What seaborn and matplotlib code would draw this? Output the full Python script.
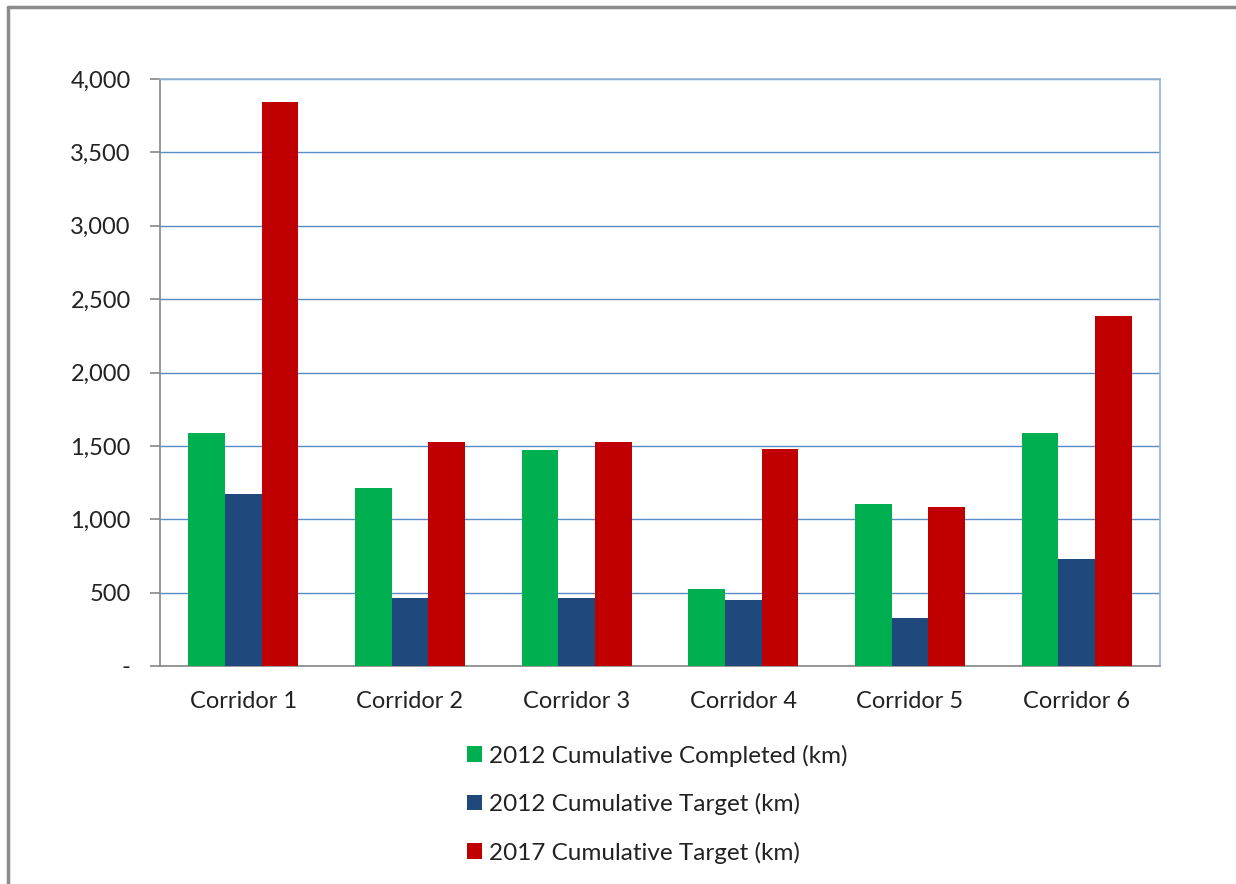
import numpy as np
import pandas as pd
import matplotlib.pyplot as plt
import matplotlib.ticker as mticker
from matplotlib.lines import Line2D
import seaborn as sns

corridors = ["Corridor 1", "Corridor 2", "Corridor 3", "Corridor 4", "Corridor 5", "Corridor 6"]
completed_2012 = [1590, 1215, 1470, 525, 1105, 1590]
target_2012 = [1170, 465, 465, 450, 330, 730]
target_2017 = [3845, 1525, 1525, 1480, 1085, 2385]
series_names = ["2012 Cumulative Completed (km)", "2012 Cumulative Target (km)", "2017 Cumulative Target (km)"]
colors = ["#00B050", "#1F497D", "#C00000"]

df = pd.DataFrame({
    "Corridor": corridors * 3,
    "Series": np.repeat(series_names, len(corridors)),
    "km": completed_2012 + target_2012 + target_2017,
})

sns.set_style("white")
plt.rcParams['font.family'] = ['Lato', 'DejaVu Sans']

fig = plt.figure(figsize=(12.36, 8.84), dpi=100)
ax = fig.add_axes([160 / 1236, 1 - 666 / 884, 1000 / 1236, 587 / 884])

sns.barplot(data=df, x="Corridor", y="km", hue="Series", palette=colors,
            width=0.66, gap=0, saturation=1, linewidth=0, ax=ax, zorder=3)

ax.set_ylim(0, 4000)
ax.set_xlim(-0.5, len(corridors) - 0.5)
ax.yaxis.set_major_locator(mticker.MultipleLocator(500))
ax.yaxis.set_major_formatter(mticker.FuncFormatter(lambda v, p: "-" if v == 0 else f"{v:,.0f}"))
ax.grid(axis="y", color="#5B8BC6", linewidth=1, zorder=0)
ax.set_axisbelow(True)
ax.set_xlabel("")
ax.set_ylabel("")

for s in ["left", "bottom"]:
    ax.spines[s].set_color("#868686")
    ax.spines[s].set_linewidth(1.2)
for s in ["top", "right"]:
    ax.spines[s].set_color("#95B3D7")
    ax.spines[s].set_linewidth(1.2)

ax.set_xticks(np.arange(len(corridors) + 1) - 0.5, minor=True)
ax.tick_params(axis="x", which="major", length=0, pad=18, labelsize=17, labelcolor="#222222")
ax.tick_params(axis="x", which="minor", length=7, color="#868686", width=1.2, direction="out")
ax.tick_params(axis="y", length=7, color="#868686", width=1.2, direction="out", left=True,
               pad=14, labelsize=17, labelcolor="#222222")

leg = ax.legend(loc="upper left", bbox_to_anchor=(457 / 1236, 1 - 735 / 884),
                bbox_transform=fig.transFigure, frameon=False, fontsize=17.5,
                handlelength=0.62, handleheight=0.62, handletextpad=0.3,
                labelspacing=1.08, borderaxespad=0)
for t in leg.get_texts():
    t.set_color("#222222")

# outer chart frame
fig.add_artist(Line2D([8 / 1236, 8 / 1236], [0, 1 - 7 / 884], transform=fig.transFigure,
                      color="#8C8C8C", linewidth=2.5))
fig.add_artist(Line2D([8 / 1236, 1], [1 - 7 / 884, 1 - 7 / 884], transform=fig.transFigure,
                      color="#8C8C8C", linewidth=2.5))

fig.savefig("out.png", dpi=100)
